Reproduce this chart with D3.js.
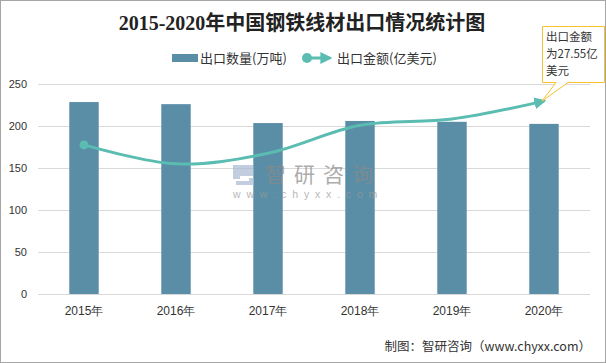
<!DOCTYPE html>
<html>
<head>
<meta charset="utf-8">
<script src="https://cdn.jsdelivr.net/npm/d3@7"></script>
<style>
  body { margin: 0; background: #fff; }
  svg { display: block; font-family: "Noto Sans CJK SC", "Liberation Sans", sans-serif; }
</style>
</head>
<body>
<div id="chart"></div>
<script>
const years = ['2015年', '2016年', '2017年', '2018年', '2019年', '2020年'];
const quantity = [228.5, 226, 203.5, 206, 205, 202.5];   // 万吨
const amount = [21.3, 18.6, 20.1, 24.1, 25.0, 27.55];    // 亿美元
const leftTicks = [0, 50, 100, 150, 200, 250];

const width = 606, height = 363;
const margin = {top: 84, right: 16, bottom: 69, left: 38};
const graphWidth = width - margin.left - margin.right;
const graphHeight = height - margin.top - margin.bottom;

const barColor = '#5a8ea7';
const lineColor = '#5bbcb1';

const svg = d3.select('#chart').append('svg')
    .attr('width', width)
    .attr('height', height);

// outer frame
svg.append('rect')
    .attr('x', 0.5).attr('y', 0.5)
    .attr('width', width - 1).attr('height', height - 1)
    .attr('fill', '#fff')
    .attr('stroke', '#a6a6a6');

// title
svg.append('text')
    .attr('x', 302).attr('y', 30)
    .attr('text-anchor', 'middle')
    .attr('font-size', 20)
    .attr('font-weight', 'bold')
    .attr('font-family', '"Liberation Serif", "Noto Sans CJK SC", serif')
    .attr('fill', '#222')
    .text('2015-2020年中国钢铁线材出口情况统计图');

const g = svg.append('g').attr('transform', `translate(${margin.left},${margin.top})`);

const x = d3.scaleBand().domain(years).range([0, graphWidth]).paddingInner(0.68).paddingOuter(0.34);
const yLeft = d3.scaleLinear().domain([0, 250]).range([graphHeight, 0]);
const yRight = d3.scaleLinear().domain([0, 30]).range([graphHeight, 0]);

// grid
g.append('g')
    .selectAll('line')
    .data(leftTicks)
    .join('line')
    .attr('x1', 0).attr('x2', graphWidth)
    .attr('y1', d => Math.round(yLeft(d)) + 0.5)
    .attr('y2', d => Math.round(yLeft(d)) + 0.5)
    .attr('stroke', '#d9d9d9');

// y axis labels
const yAxis = d3.axisLeft(yLeft).tickValues(leftTicks).tickSize(0).tickPadding(11);
g.append('g').call(yAxis)
    .call(a => a.select('.domain').remove())
    .selectAll('text')
    .attr('font-size', 11)
    .attr('font-family', '"Liberation Sans", sans-serif')
    .attr('fill', '#333');

// x axis labels
const xAxis = d3.axisBottom(x).tickSize(0).tickPadding(12);
g.append('g').attr('transform', `translate(0,${graphHeight})`).call(xAxis)
    .call(a => a.select('.domain').remove())
    .selectAll('text')
    .attr('font-size', 12)
    .attr('fill', '#333');

// bars
g.append('g')
    .selectAll('rect')
    .data(quantity)
    .join('rect')
    .attr('x', (d, i) => x(years[i]))
    .attr('y', d => yLeft(d))
    .attr('width', x.bandwidth())
    .attr('height', d => yLeft(0) - yLeft(d))
    .attr('fill', barColor);

// watermark
const wm = svg.append('g').attr('transform', 'translate(233,165)').attr('opacity', 0.7);
wm.append('path')
    .attr('d', 'M0,0 h20 v11 h-13 v3 h-7z M3,20 v-4 h13 v-3 h5 v7z')
    .attr('fill', '#a9bad2');
wm.append('text')
    .attr('x', 32).attr('y', 17)
    .attr('font-size', 21)
    .attr('fill', '#8a8a8a')
    .attr('letter-spacing', 8)
    .text('智研咨询');
wm.append('text')
    .attr('x', 0).attr('y', 33)
    .attr('font-size', 10.5)
    .attr('font-family', '"Liberation Sans", sans-serif')
    .attr('fill', '#9a9a9a')
    .attr('letter-spacing', 5.8)
    .text('www.chyxx.com');

// arrow marker
const defs = svg.append('defs');
defs.append('marker')
    .attr('id', 'arrow')
    .attr('viewBox', '0 0 10 10')
    .attr('refX', 8).attr('refY', 5)
    .attr('markerWidth', 4).attr('markerHeight', 4)
    .attr('markerUnits', 'strokeWidth')
    .attr('orient', 'auto')
    .append('path')
    .attr('d', 'M0,0 L10,5 L0,10 z')
    .attr('fill', lineColor);

// line
const line = d3.line()
    .x((d, i) => x(years[i]) + x.bandwidth() / 2)
    .y(d => yRight(d))
    .curve(d3.curveCatmullRom.alpha(0.5));

g.append('path')
    .datum(amount)
    .attr('d', line)
    .attr('fill', 'none')
    .attr('stroke', lineColor)
    .attr('stroke-width', 3)
    .attr('marker-end', 'url(#arrow)');

g.append('circle')
    .attr('cx', x(years[0]) + x.bandwidth() / 2)
    .attr('cy', yRight(amount[0]))
    .attr('r', 4.5)
    .attr('fill', lineColor);

// legend
const legend = svg.append('g').attr('transform', 'translate(0,58)');
legend.append('rect')
    .attr('x', 172).attr('y', -4)
    .attr('width', 26).attr('height', 8)
    .attr('fill', barColor);
legend.append('text')
    .attr('x', 200).attr('y', 5)
    .attr('font-size', 13).attr('fill', '#333')
    .text('出口数量(万吨)');
legend.append('line')
    .attr('x1', 307).attr('x2', 330)
    .attr('y1', 0).attr('y2', 0)
    .attr('stroke', lineColor)
    .attr('stroke-width', 3)
    .attr('marker-end', 'url(#arrow)');
legend.append('circle')
    .attr('cx', 307).attr('cy', 0).attr('r', 5)
    .attr('fill', lineColor);
legend.append('text')
    .attr('x', 337).attr('y', 5)
    .attr('font-size', 13).attr('fill', '#333')
    .text('出口金额(亿美元)');

// callout for last point
const tipX = margin.left + x(years[5]) + x.bandwidth() / 2 - 2;
const tipY = margin.top + yRight(amount[5]);
const callout = svg.append('g');
callout.append('path')
    .attr('d', `M542.5,26.5 H604.5 V82.5 H568 L${tipX},${tipY} L556,82.5 H542.5 Z`)
    .attr('fill', '#fff')
    .attr('stroke', '#f5c12e');
callout.selectAll('text')
    .data(['出口金额', '为27.55亿', '美元'])
    .join('text')
    .attr('x', 546)
    .attr('y', (d, i) => 41 + i * 17)
    .attr('font-size', 11.5)
    .attr('fill', '#333')
    .text(d => d);

// source
svg.append('text')
    .attr('x', 591).attr('y', 351)
    .attr('text-anchor', 'end')
    .attr('font-size', 12.5)
    .attr('fill', '#333')
    .text('制图：智研咨询（www.chyxx.com）');
</script>
</body>
</html>
